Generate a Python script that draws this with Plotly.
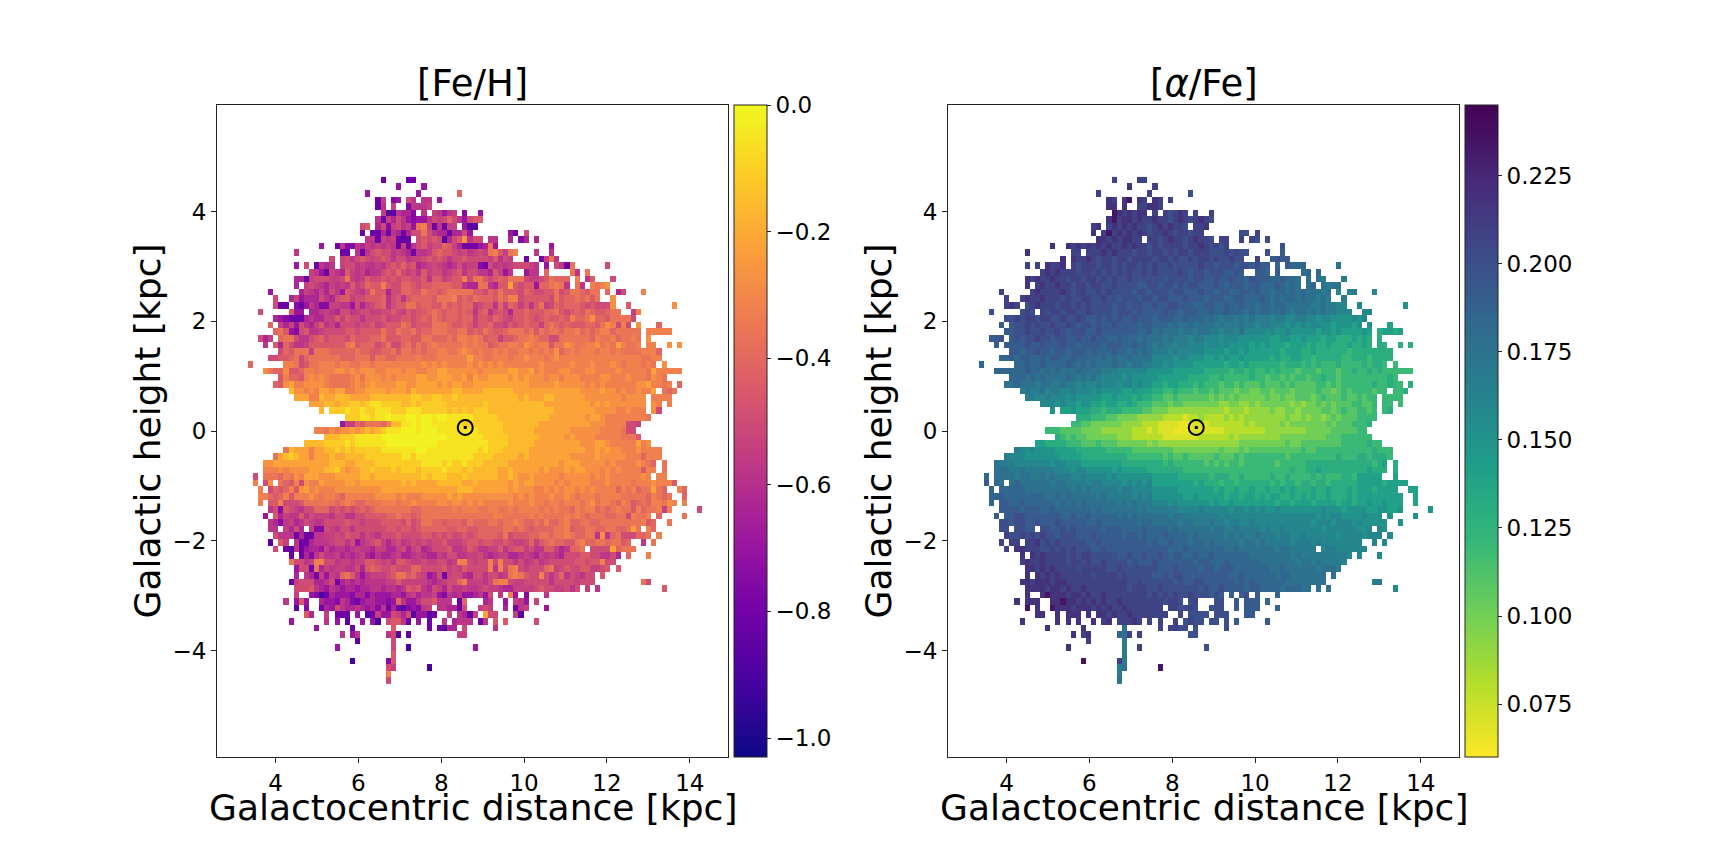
import plotly.graph_objects as go

# Each string is one row of bins, top to bottom; every character is one bin.
# "." = empty bin. Letters are binned levels (see feh_levels / alpha_levels).
feh_rows = [
".......... .......... .......... ..q....qq.",
".......... .......... .......... .....o.... o.........",
".......... .......... .........o .........o .......i..",
".......... .......... .......... .ql.po.km. mm.o......",
".......... .......... .......... .qm.l..pmm ml........",
".......... .......... .......... ..lrrmnnp. m.lmoml.p. .o........",
".......... .......... .......... .mqlnkmopo omklkikmok jj........",
".......... .......... ........kj .nkplkmloh glqmqll.or r.........",
".......... .......... ........q. qqnqmnqnkk hkmnnqnnko .......oq. k.........",
".......... .......... .........m mqlmlqrq.k jkjkrnkjfm kk.mm..n.p n.n.......",
".......... .......... o..qmppmnl mlmlmqlqmk jlkkijlnqq qonho..... .....o....",
".......... .....m.... ....qq.mqm kjkkmlmnqm mljijjklkm lklhgjlhg. ..m..m....",
".......... .......... ..k.lkmkjk lkjkmkkmll kjkjkmkkjk kkkljmkl.. q..qlhm...",
".......... .....o.k.q mnm.lkkmlm mlmkjkikjn mlklmnmkml lpqkmlmlkk klm.o.kmqh ......k...",
".......... ........lm oqlmnjlmln mmkjkiklkm jlkkmlkjmk kmmnjlom.. omm.i....h m.h.......",
".......... .....nnqlk kkllkhlmlj kkjkjkjjkk jmjjlkjjgk hhjkjijhhh kllkjhiii. g.mj...k..",
".......... .....n.lkl mnlmlmjlki jjgjkkiijk jjiiiijjmn nhhmnjjejk jjoiihghm. hm.ghgf...",
".......... o.....nlmn lnkmojklmk hjjnkkiijj hiijihhhhh jjkijhjjjk ijkkjjhkjh hijhh.i.nk ...g......",
".......... .k..nlonnn kmnkjjlkkj jjimkjmjii iijhhhgjij hiiijhiggk jjjjjkhjii hihjh..f..",
".......... .kqq.pqomn ppllmmoknl kjimkjjhhj iijjhjijii lkjjmilijl jmjhlkijii ijkjkkkf.. j........f",
"........k. ....joo.nn mlmnkkmlkk llkkjkljkj jihijiijij mjimkjknjj ijjjiihjkj ijhijjihh. .lg.......",
".......... .nopqqqnmn nlljljkkmk kkjlkkjjkj ijhijiijii ljjkijkljj ijkjijjijg iihfiijhhh hk........",
".......... i.lnlokmnl jmlnkkklkk jlkjjjhikj jjhhhijjij ljjikkljkj ijjlihijij jjiijhfgkg k.f...i...",
".......... .ihjopkjmm lkkkkjjkjj jjhjjhiihj iihhhiihhj ijhijjihhh ihjhihhihh gihihggihh hhh.ggggg.",
"........kn l.ihhkmmkj ikjjjkijjj iihjjjiijj hhiiihiggh ghjiiljjih hghiikkhhh hhhighhgih hgh.f.....",
".........m .jnikmmljj jjjjjhgjii ikjhkkihjh ihghhhhhgh ghhjihhggh fghggjhhfg hhggfhgheg hhg.gg..f. f.........",
".......... ..kijhhhlh hhiiiiihii jjiihjhhih ihhgghhgfg hghhghghhg ghghghfihg hggghgghgh hhhgggi...",
".......... kkjjihkihh hhhhiiihhh jhhiihhhhg hhhgggggge gghhggghgg fggghgfggg gggggggggg ggghhgg...",
"......i... ...gghkjhh ggghgghhgg hggggggggg fgfgfggggf gfgfgfgggg gggfgggggf gggfgggfgh ggghgh.f..",
".........f hiifjjiggh gggffgfgff fggfffgffg gffeefffff fgfffffeef fegfgggffg ggffggggfg gggghegggg g.........",
".......... ..jgiijgfg fghhhhgfhf ffgfgffffe effeeeffeg effeeeefef efffgffgff fggggffggg fggghfgh..",
".......... .ijfeggfff fghhhhgfgf effffeeffe eeefefeeff eeeeeeeeee efffffefff ffgfgfgggg ggffegghg. i.........",
".......... ....dffgfg eefeeggffe eeefeeefde eeeeeeddee eeddddddee eeeeeeeeee effffeffgf ggfgge.hih",
".......... .....eeegg deedddeeee ddddddddcc ddccddcddd ddddddddde deeeddeeee eefffffffg ffff.gggg.",
".......... ........ee eddeddccdc bbccccddcd cccccddddd ddcddddddd ddddeeeeee eeefefefff ffff.fg.g.",
".......... .......... d.cccbccbc cbbbcccbbb cccccdcdcd cccddddddd ddddddeeee eeeeffffgg fggg.fk...",
".......... .......... .....cccbb cbbabbbaab aabaabbbbb cccccddddd dddddeeeee eefeefgggg ggggh.....",
".......... .......... ....ollijh hhigddbbab aabbbbbbcc ccccccdddd dddeeeeeee eeefffgggg kkl.......",
".......... .........g ghfgffefed edcbbbaaab aaabbbbbbb bcccccdddd ddeeeeeeef fffffggggh kk........",
".......... .......... .dddcccbbb bbaaaaaaaa aaaaabbbbb bbcccccddd dddeeeeefe ffffgggggh hhj.......",
".......... .......ddd dccccbcbbb bbbaaaaaaa aaabbbbbbb bbbccccddd ddeeeeeeee efffeefggg ggegf.....",
".......... ...hdeeege eddcdcdccc ccbbbbbbba abbbbbbbbb bcbcccdddd deeeeeeeee eeffefeffg ggfgggg...",
".......... .hedcdeege eedeeddddc ccccccbbcb bbbbbbbbbb ccccddddde deeeeeeeef ffffefffff gggiggg...",
".........f feeeeeeeee eedddeeddd dccccccccc bbbbcbccbc ccdddddeee eeeeeeefee efffffgfgg ggfghi.h..",
".........g ggfgffffee eddcefeedd cdddcdcccd ccccbcccdc dddddeedee eeefefffef eefffgfgfg gggjgg.h..",
".......k.h hhighfgeee fffeeeeedd eddddddddd cdcccdddcd dddddeedef fefffffgff fffgfgfggg gggfg.gg..",
".......g.k f.hijgkfgg effffeefee eeeeeedede eeedddddee deeeeeefef eeffffgfgf fffgggfggg ghgggfgggj",
"........g. kijigjfegf gggfffffff ffeeeeeeee eeeeeeeddd eeeeeeefef ffggfgfgff gfgfggggig hgihhehi.. gi",
"........gg ijigjgggfg hgghiggggg gffffgfggg fffffefeff ffffffffgf gfgggfggfg hggghggggh hhhhighih. .i",
"........g. jjgkkkjhhh hhhihghiih hhggghggfg gggffgffgf gfgggggfgg gfgghgghgg ghgfhgghig hjihigghfg .g",
".......... mkpjklmkki iikjkjkjij ihhhhhhhii hhhhhhghgg ghhgghhghg ggghghghhi ghggihihgh hjgihhglg. ....k",
".........o .jnlmmjmkl llmkkmmkkj jjjiihiiji hhhhhhhhhh hhhhgghhhh hghghhhhgh ghihhhiihh kghhg.i... .h",
".......... mnpmlnmklm mkkkkjkklk kkjjjjkikj hhiijiiijh iiihhihhgh iihigiihgi ihhiihhhhh hhhgji..h.",
".......... mm.lnkn.lp pklmkkmkkk kkkjjkjjkj iiiiijjiij jiiiiihhih ijiiiihhgj iihhiihhii heh.gi....",
".......... .kmmmqnqqm mllkljkkmk lmkkkjkkkk jjkjkjkkjk jiiiijhkjj jiihhihhgh iihhmfmihk kkiih.g...",
".......... r.jl.mqqnm mmlkkmkoml kjlnlkmlkl klkkjlllkj jkjjkkjkll kiljihiijj hgiihhihhj i..m.h....",
".......... .k.qrmqonn olnmmnmlmm nllnnlknlk nmkkkjmmlj kmmlljmkjj lkmmjjlnmi ih.kkkkeih hh........",
".......... ....q.qnpm kmmlnmnmln omnnmlnnml mnnlmkkmml lkmnmllnnm lmnlmlmnkk kjjkkmmkn. i...g.....",
".......... ....hkkmlg gkkmllmllj jklkmjjkll kllkkmlggk lkkgkgkkmk mlkmlkkkkk jjkjjgkk..",
".......... .....okkqh nlmllmmknj ijkkjkkkii kkkkjlkljk kkkgmgkhgk lkkkihlkjk kjjllkj.j.",
".......... .....n.mnq lolmihjmom lllkjhhjik lonkqlkkmn kkmkkmlhgh jkkgkmkimk lmkk.j....",
".......... ....qlkkkn nmkqnmnmnm mmmlljllll lmnmlkkigl llmkhggkll kkkkkmkkkk lkkk...... ...hk.....",
".......... .....kkkjm nomnonnonn mmnmmnmjkj mnklnkmmlm mlkllmnnll llkjkkllkm k.l.m..... .......j..",
".......... .....l..op sqnooopnnp nooonnomln mmlopmnmoo nmok.m.go. p...m.....",
".......... ...m.ojo.. noopmnpqon noopoimoom kkjmmm.qi. ..nm..o.lm o.l.......",
".......... .....r.p.. qnokmnnmno npmqnqrpop ml.mmnnqk. .lkl..n.qm l...o.....",
".......... .......jn. .l.qqq.o.r qlooklnkro orq..l.mnq l.ekk...lr",
".......... ....o..... .m.o.r..o. os.kjjmq.o .q..m.nmmm .qm.j.j... ..k.......",
".......... .........o ......q... ....j..... .q.qrnn.k. ....m.....",
".......... .......... ....m.om.. ...mkr.r.. .......ll.",
".......... .......... .......r.. ....k.....",
".......... .......... ...o...... ....k..s.. .......... o.........",
".......... .......... .......... ....j.....",
".......... .......... ......s... ...pj.....",
".......... .......... .......... ...kl..... .s........",
".......... .......... .......... ...g......",
".......... .......... .......... ...k......",
]

alpha_rows = [
".......... .......... .......... rrqrsrrqqr",
".......... .......... .......... qrrqrrqrqr qr",
".......... .......... .........q rqrrqrqrrq rqpqrqqp",
".......... .......... ........qr qrqrrsqrqr rqrqrrq",
".......... .......... ........rr qrrqrqrqqr rqqrq",
".......... .......... ........qr rqsrqrqrrq qrqpqrqrqq rqp",
".......... .......... ........rq qrsqrrqrqq rqqpqrqpqr qpqr",
".......... .......... ........qr rqrqrqrqqp qrqrqqpqqq rqp",
".......... .......... ........rr qsqrqrqrqp qqrqpqqpqq rqpqqqqppq qpq",
".......... .......... .......rqr rqrqrrqqpq qpqrqqpqrq qppqqqpqpq pqp",
".......... .......... rqqrqrqrqr qrqqrqrqqp qpqqqqpqqr qpqpqpqppq qpqpqp",
".......... .....r.... .qqrqqrqqq rqrqqqpqqp qqpqpqqpqq qpppqpqppq pqpppo",
".......... .......... ..rqrqqrqp qqpqqpqqqq pqqpqppqpq qpqppqppop qppopoo",
".......... .....qrqqr qqrqqpqqqp qqpqpqqpqp qppqpppppq ppopppoppo pooonoonnn mnmmlmm...",
".......... ........qr qrqqqpqqpq pqpqpqppqp qppppqpopp opppoopopo oonoonnonm nmnm......",
".......... .....rqrqq rqqpqqpqqp qpqppqpppp ppoppppopp oopoopoonp ooonnonnmn mnmlmmll..",
".......... .....rqqrq qrqqpqqpqq ppqppppoop poppopoppo ooponooono onnnonmnmn mnmmlmml..",
".......... q.....qrqq qqrqpqqppq pqppppoppo pppoppooop oonoonnoon onnmnnmnmn mmmlmlklkl ...k",
".......... .qrqqrqqrq qqpqppqqpp qppopppopp oppooopooo nooonnoonn nonmnmnnmn mmlmlmllkk",
".......... .qrqqpqrqq qpqqpqpqpp ppoppoppoo pooppooonn oonnonnonn mnnmnnmmmm mllmllkkkk k........j",
"........p. ....pqpqqp qqpqqppqpp ppopppopoo oopoonooon nonnonnnmn mnnmmnmlmm lmlmllkkkk kkk",
".......... .ppqpqqpqq ppqppqpoop opopoopooo nooonnonnn mnmlmmlmlm lllkllkkll kkjkkjjjjk jk",
".......... o.oppqpqpp qppqpoppop oopoooonoo nnnmnmmnmm mmlmlllmll kllkkkjkjk jkkjjijjji j.j...i",
".......... .ooppqppqp pqpopppoop ooooooonno mnmmmlmmlm mllkllkmkk kkjkjjkjjj jjijjijiii ijiihiihi",
"........oo p.opoppqpp oppoopoopo onnonnnmnm mmlmlllkll kkkjkkkjjj jjjiijjiij iiihiihhhi hih.h",
".........o .oooopoopo oopoonoooo nooonnonnm lmllkllkkk jkkjkjjjji jijiiihiii hihhihhhih hihhhhh.h. h",
".......... ..oonoopoo noonooonon nnonnmnmnm lllklkkkkk jjjjijjiji iiiiihiiih hihhhhhhgh hhhhhhhh",
".......... nnonoonnon oonnonnnnm nmnmmnmmmm kkkkjkkjjj iijijiijii iiihihhiih hghhhhhggh hhghhhh",
"......n... ...nnonnon nnnonmnmnm mmnmmlmmll kkjkjjjjii iiiihiihih hhhhhghhhg hghggghggg ghghhghg",
".........n nnnnnonnmn mnmmmnmmmm lllkkkkkkj jjjjiiiiii hhhhhghhgh gghghgggfg ggfgggfggh gghghggggg g",
".......... ..nnnmnmnm mmmnmlmlml kkkkjkjjjj jiiiiiihhh hgghgggggh ggfggfgfgg fgghggfggg gggggghg",
".......... .mmnmmmlmm llmllklkkl kkkjkkjkjj iihiihhhgh gggfggfgff fgfffgfgff ffggfgfggg ggghgghgg. h",
".......... ....lmllmk llkklkkkjk jjjjiijiii hhgghgggfg gfgfffeffe effefffeff ffgffefgfg gggfgg.ggh",
".......... .....llkkl kkkjkjjjjj iijiiihihh ggffgfffff fefefefeee eefeefeeff fefgfffgff gfgg.gggg",
".......... ........kk kjkjjijjii hiihhihggg fffeffeeee eeeddeedde deeeeeeded eefefefffg gffg.gg.g",
".......... .......... j.iijiiihh ghhhggggff eeeddddddd ddddcdddcd dddeddeede eeeffefgff ggfg.gh",
".......... .......... .....hhhgg gffeeeeddd ddccccbccd ccccdcdcdd ddddddedde deedefefff gggg",
".......... .......... ....ggffee eeeeddddcc cbbbbaaabb bcccccccdc dddddedeee eeeefefffg ggh",
".......... .........g ggffffeeee ddddddcccb cbbbaaaabb bbbbcccccc ccdddddddd eeeeefffff ggg",
".......... .......... .hgfgffeee eeedddcccc ccbbbbbbbc cccccdcddd dddddeeeee eeeefffggg ggg",
".......... .......iih hhhgggfffg fffeeeeeed eddddddddd dddddddeee eeeeeefeef fffffffggg gghgg",
".......... ...lkjkjjj jiiiihhhhh hgggggffff ffffeeeeee eeefeeefef fffffffffg ffgggggggg ggghggg",
".......... .lkkkjjjjj jjiiiihhhh hhhhhggggg ggfgffgfff ffgfffgfgg ggggggfggg gggggghggg hhghhhg",
".........m lllkkkkkkk jkkjjjiiii iiiihhhhhh hhghgggggg fgfgfggfgg ggggfggggg hhhhhhhhhh hhhghi.h",
".........m mmllmlllll lkkkjkkjjj jjijiiiiih hhhhhhgggg gggggggggg ggggggghgg hhihhhhhhh hhihhh.h",
".......n.m mmmlmmllml mlllkklkkk kjkjjjjjjj iiiiihhhhh hghhhgghgg ggghgghggg ghghggghhg iiiiii.ii",
".......o.n m.mnmmmmmm lmmllllkll kkkkjkjkjk iiiiiiiihi hhhghhghhh hhhghghhgh hghhghhhhh iiiiihiiii",
"........n. nnnnnmmmmm mmmmlmlmll lllkllkkkk jjjjjiiiii iihihhihhi hhihhihihh hihhihhhih iiihiiiii. ii",
"........nn onnnnnnnnm mnmnmmmmml mlllllklkl jjjjjjiiji iiiihiihii hihiihhihi hihhihhhih iiiiiiiii. .ii",
"........n. oonnonnnnn nmnmnmnmmm mmmlmlmlll kkkjkjjjjj jijiijiiii iiiihiihii ihiiiihiih iijiijiii. .i",
".......... oooonooonn onnnnnnnmn mmmmmmmlml lllllkkkkl kkkkkjkkjk jkjjkjjjjj jjjkjjjijj jjiijjiij. ....j",
".........o pooppooooo oonnonnonn nnnmnmnmmm mmmlmmllll lllklkkkkk kkkkkkkkkk kkjkjkkjjj jkjjj.j... .j",
".......... ppoppoopoo opooooonno nnnnnnnmnn mmmmmlmmll lmllkllkkl kkkkkkkkkk kjkkkjkkkj kjjjjj..j",
".......... pp.ppoo.pp oopopooooo nooonnnnon nnnmnmmmmm mlmmllmlll lklkklkkkk kkkjkkkkkk jjk.kj",
".......... .qppqpqpqp popppooopo oooonoonon nnonnnnmnm mmmmlmlmll mlllkllkkl kkkkkkjkkk kjkkk.k",
".......... q.qq.qqrpq pqpppppoop ooooooooon onnonnnmnn mnmmmmmlmm lmlllllkll lklkkkkkkk k..k.k",
".......... .q.rrqqqpp qpqpqpppoo pooooooooo ooonnnonnn nnnnmmnmmm mmmmlmmlll lllkllkkkk kk",
".......... ....r.rqrq qqqpqpqqpp pppoopoopo oponoonnon nonnnnnnnm mmmmmmmlml llllllllkk k...k",
".......... ....qrqqrq qqqpqqpqpp qppppopooo pooooooono onnnonnnnn nmmmmmmmlm mlmllllk",
".......... .....rrqrq rqqqqpqqqq qppqpppppp pooopoooon oonooonnnn nnnmmnmmmm mmlmmmll.l",
".......... .....r.rqr qrqqqqqqpq qqqpqppppp oopoppoooo ooooonnonn nnnnmnnmmm mmmm.m",
".......... ....rrqrrr qrrqqqqqqq qqqqqppqpp ppppopoopp oooooonono nnnnnnmmmm mmmm...... ...ll",
".......... .....rrrrq rrqrqqrqqq qqqqqpqqqp pqpppppppo poopoooono onnnnmnnnm m.m.m..... .......k",
".......... .....r..rs rrrqrrqrqq rqqqqqqqqp qpqpqppqpp popo.o.op. o...n",
".......... ...r.rrr.. rrsrrqrqrq rqqrqqqqqq qqpqqp.pq. ..pp..o.oo o.n",
".......... .....s.r.. srrrqrrrqr qrqqrqqqqq qq.qqppqp. .ppp..o.oo o...n",
".......... .......rr. .r.rrr.r.r rqrqqrqqqq qqq..q.ppp p.ppp...oo",
".......... ....r..... .r.r.r..r. qr.qqqrq.q .q..q.pqpp .pp.p.o... ..o",
".......... .........r ......r... ....m..... .q.qqpp.p. ....p",
".......... .......... ....r.qr.. ...nmq.q.. .......pp.",
".......... .......... .......q.. ....l",
".......... .......... ...r...... ....l..q.. .......... p",
".......... .......... .......... ....l",
".......... .......... ......s... ...ql",
".......... .......... .......... ...lm..... .s",
".......... .......... .......... ...l",
".......... .......... .......... ...m",
]

feh_levels = dict(zip("abcdefghijklmnopqrst",
    [-0.02, -0.05, -0.11, -0.16, -0.22, -0.27, -0.32, -0.36, -0.41, -0.45,
     -0.50, -0.54, -0.58, -0.63, -0.69, -0.75, -0.81, -0.86, -0.91, -0.95]))
alpha_levels = dict(zip("abcdefghijklmnopqrs",
    [0.065, 0.07, 0.08, 0.09, 0.10, 0.11, 0.12, 0.13, 0.14, 0.15,
     0.16, 0.168, 0.176, 0.184, 0.192, 0.20, 0.208, 0.218, 0.235]))

R_EDGE0, R_BIN = 2.59, 0.1233
Z_TOP_ROW, Z_BIN = 4.57, 0.12
sun_r, sun_z = [8.58], [0.064]
feh_ticks = [-1.0, -0.8, -0.6, -0.4, -0.2, 0.0]
alpha_ticks = [0.075, 0.1, 0.125, 0.15, 0.175, 0.2, 0.225]
xticks = [4, 6, 8, 10, 12, 14]
yticks = [-4, -2, 0, 2, 4]

def clean(rows):
    return [r.replace(" ", "").ljust(100, ".")[:100] for r in rows]

feh_c, alpha_c = clean(feh_rows), clean(alpha_rows)
feh = [[feh_levels.get(c) for c in r] for r in feh_c]
alpha = [[alpha_levels.get(a) if f != "." else None for a, f in zip(ra, rf)]
         for ra, rf in zip(alpha_c, feh_c)]
r_centres = [R_EDGE0 + R_BIN * (i + 0.5) for i in range(100)]
z_centres = [Z_TOP_ROW - Z_BIN * j for j in range(len(feh))]

W, H = 1728, 864
FONT = "DejaVu Sans"
TOP, BOTTOM = 105, 757
panels = [(217, 728), (948, 1459)]
bars = [734, 1465]

fig = go.Figure()
fig.add_trace(go.Heatmap(x=r_centres, y=z_centres, z=feh, colorscale="Plasma", zmin=-1.03, zmax=0.0,
    xaxis="x", yaxis="y", hoverongaps=False,
    colorbar=dict(x=bars[0] / W, xanchor="left", xpad=0, ypad=0, y=1 - (TOP + BOTTOM) / 2 / H, yanchor="middle",
                  len=(BOTTOM - TOP) / H, thickness=33, outlinewidth=1, outlinecolor="#222",
                  tickvals=feh_ticks, tickformat=".1f", ticks="outside", ticklen=4, tickcolor="#222",
                  tickfont=dict(family=FONT, size=23, color="black"))))
fig.add_trace(go.Heatmap(x=r_centres, y=z_centres, z=alpha, colorscale="Viridis_r", zmin=0.06, zmax=0.245,
    xaxis="x2", yaxis="y2", hoverongaps=False,
    colorbar=dict(x=bars[1] / W, xanchor="left", xpad=0, ypad=0, y=1 - (TOP + BOTTOM) / 2 / H, yanchor="middle",
                  len=(BOTTOM - TOP) / H, thickness=33, outlinewidth=1, outlinecolor="#222",
                  tickvals=alpha_ticks, tickformat=".3f", ticks="outside", ticklen=4, tickcolor="#222",
                  tickfont=dict(family=FONT, size=23, color="black"))))
for xa, ya in (("x", "y"), ("x2", "y2")):
    fig.add_trace(go.Scatter(x=sun_r, y=sun_z, mode="markers", xaxis=xa, yaxis=ya, showlegend=False,
        marker=dict(symbol="circle-open", size=15, color="black", line=dict(width=2, color="black"))))
    fig.add_trace(go.Scatter(x=sun_r, y=sun_z, mode="markers", xaxis=xa, yaxis=ya, showlegend=False,
        marker=dict(symbol="square", size=3, color="black")))

def xax(dom):
    return dict(domain=[dom[0] / W, dom[1] / W], range=[R_EDGE0, 14.92], tickvals=xticks, ticks="outside", ticklen=5,
                tickcolor="#222", showline=True, mirror=True, linecolor="#222", linewidth=1, showgrid=False,
                zeroline=False, tickfont=dict(family=FONT, size=23, color="black"))
def yax(anchor):
    return dict(domain=[1 - BOTTOM / H, 1 - TOP / H], range=[-5.94, 5.94], tickvals=yticks, ticks="outside", ticklen=5,
                tickcolor="#222", showline=True, mirror=True, linecolor="#222", linewidth=1, showgrid=False,
                zeroline=False, anchor=anchor, tickfont=dict(family=FONT, size=23, color="black"),
                title=dict(text="Galactic height [kpc]", font=dict(family=FONT, size=36, color="black"), standoff=0))

titles = [("[Fe/H]", panels[0]), ("[<i>α</i>/Fe]", panels[1])]
notes = [dict(text=t, xref="paper", yref="paper", x=(p[0] + p[1]) / 2 / W, y=1 - (TOP + 2) / H,
              xanchor="center", yanchor="bottom", showarrow=False,
              font=dict(family=FONT, size=37, color="black")) for t, p in titles]
notes += [dict(text="Galactocentric distance [kpc]", xref="paper", yref="paper", x=(p[0] + p[1]) / 2 / W, y=1 - 807 / H,
               xanchor="center", yanchor="middle", showarrow=False,
               font=dict(family=FONT, size=36, color="black")) for p in panels]
fig.update_layout(
    width=W, height=H, margin=dict(l=0, r=0, t=0, b=0), paper_bgcolor="white", plot_bgcolor="white", showlegend=False,
    xaxis=dict(xax(panels[0]), anchor="y"), yaxis=yax("x"),
    xaxis2=dict(xax(panels[1]), anchor="y2"), yaxis2=yax("x2"),
    annotations=notes,
)
fig.write_html("out.html", post_script="document.body.style.margin='0';", config={"displayModeBar": False})
